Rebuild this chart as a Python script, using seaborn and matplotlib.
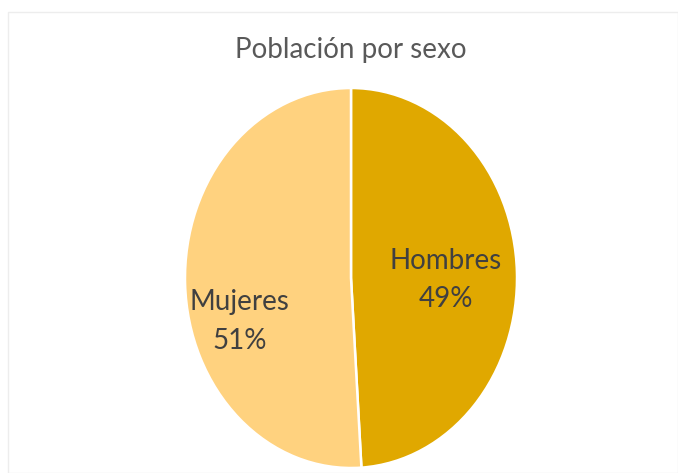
import matplotlib
matplotlib.use("Agg")
import matplotlib.pyplot as plt
import seaborn as sns

sns.set_theme(style="white")
plt.rcParams["font.family"] = ["Lato", "DejaVu Sans"]

categories = ["Hombres", "Mujeres"]
shares = [49, 51]
colors = ["#E0A800", "#FFD27F"]
label_pos = {"Hombres": (0.57, -0.01), "Mujeres": (-0.67, -0.23)}

fig = plt.figure(figsize=(6.78, 4.73), dpi=100)
fig.patch.set_facecolor("white")

# thin frame around the chart area
frame = plt.Rectangle((8 / 678, 0.0), 1 - 8 / 678, 1 - 12 / 473,
                      transform=fig.transFigure, fill=False,
                      edgecolor="#EDEDED", linewidth=1.0)
fig.add_artist(frame)

ax = fig.add_axes([185 / 678, 5 / 473, 332 / 678, 380 / 473])
wedges, _ = ax.pie(shares, colors=colors, startangle=90, counterclock=False,
                   wedgeprops=dict(edgecolor="white", linewidth=1.8))
ax.set_aspect("auto")
ax.set_xlim(-1, 1)
ax.set_ylim(-1, 1)
ax.axis("off")

total = sum(shares)
for name, val in zip(categories, shares):
    x, y = label_pos[name]
    ax.text(x, y, f"{name}\n{round(100 * val / total)}%", ha="center", va="center",
            fontsize=20, color="#404040", linespacing=1.6)

fig.text(351 / 678, 1 - 50 / 473, "Población por sexo", ha="center", va="center",
         fontsize=20, color="#595959")

fig.savefig("out.png", dpi=100, facecolor="white")
